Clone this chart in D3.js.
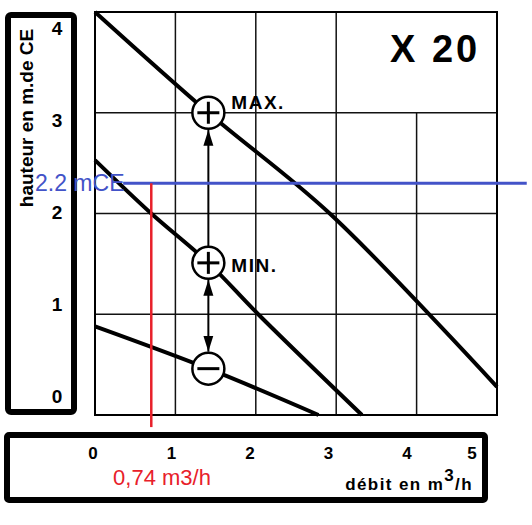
<!DOCTYPE html>
<meta charset="utf-8">
<script src="https://d3js.org/d3.v7.min.js"></script>
<style>
  body { margin: 0; background: #fff; }
  text { font-family: "Liberation Sans", Arial, sans-serif; }
</style>
<body>
<script>
  // ticks
  var flowTicks = [0, 1, 2, 3, 4, 5];
  var headTicks = [0, 1, 2, 3, 4];

  // pump curves (flow m3/h, head m)
  var maxFlow = [0, 1.41, 2.92, 5];
  var maxHead = [4.0, 3.0, 2.0, 0.28];
  var minFlow = [0, 0.70, 1.41, 2.03, 3.32];
  var minHead = [2.53, 2.0, 1.51, 1.0, 0];
  var lowFlow = [0, 1.41, 2.78];
  var lowHead = [0.88, 0.46, 0];

  // setting knobs on the curves
  var knobFlow = [1.41, 1.41, 1.41];
  var knobHead = [3.0, 1.51, 0.46];
  var knobSign = ["+", "+", "-"];
  var knobLabel = ["MAX.", "MIN.", ""];

  // hand drawn reading
  var readHead = 2.3, readFlow = 0.70;
  var readHeadText = "2.2 mCE", readFlowText = "0,74 m3/h";

  var width = 532, height = 525;

  var svg = d3.select("body").append("svg")
    .attr("width", width)
    .attr("height", height);

  var x = d3.scaleLinear().domain([0, 5]).range([95, 497]);
  var y = d3.scaleLinear().domain([0, 4]).range([415, 12]);
  // printed tick numbers sit a little off the grid
  var xLab = d3.scaleLinear().domain([0, 4]).range([93, 407]);
  var yLab = d3.scaleLinear().domain([0, 4]).range([396, 28]);

  var defs = svg.append("defs");
  defs.append("marker")
    .attr("id", "arrow")
    .attr("markerUnits", "userSpaceOnUse")
    .attr("viewBox", "0 -6 16 12")
    .attr("refX", 16).attr("refY", 0)
    .attr("markerWidth", 16).attr("markerHeight", 12)
    .attr("orient", "auto-start-reverse")
    .append("path")
    .attr("d", "M0,-5L16,0L0,5Z")
    .attr("fill", "#000");

  // grid
  var grid = svg.append("g").attr("stroke", "#111").attr("stroke-width", 1.5);
  grid.selectAll(".v").data(flowTicks.slice(1, 5)).enter().append("line")
    .attr("x1", d => x(d)).attr("x2", d => x(d))
    .attr("y1", y(0))
    .attr("y2", d => d == 4 ? y(3) : y(4));   // top right cell is left open for the label
  grid.selectAll(".h").data(headTicks.slice(1, 4)).enter().append("line")
    .attr("x1", x(0)).attr("x2", x(5))
    .attr("y1", d => y(d)).attr("y2", d => y(d));
  svg.append("rect")
    .attr("x", x(0)).attr("y", y(4))
    .attr("width", x(5) - x(0)).attr("height", y(0) - y(4))
    .attr("fill", "none").attr("stroke", "#000").attr("stroke-width", 2);

  svg.append("text")
    .attr("x", 390).attr("y", 62)
    .attr("font-size", 38).attr("font-weight", "bold")
    .attr("letter-spacing", 3)
    .text("X 20");

  // curves
  var line = d3.line().x(d => x(d[0])).y(d => y(d[1]))
    .curve(d3.curveCatmullRom.alpha(0.5));
  [[maxFlow, maxHead], [minFlow, minHead], [lowFlow, lowHead]].forEach(function(c) {
    svg.append("path")
      .attr("d", line(d3.zip(c[0], c[1])))
      .attr("fill", "none").attr("stroke", "#000")
      .attr("stroke-width", 4)
      .attr("stroke-linejoin", "round");
  });

  // arrows between knobs
  var r = 16;
  svg.append("line")
    .attr("x1", x(knobFlow[0])).attr("x2", x(knobFlow[0]))
    .attr("y1", y(knobHead[1]) - r).attr("y2", y(knobHead[0]) + r + 1)
    .attr("stroke", "#000").attr("stroke-width", 2)
    .attr("marker-end", "url(#arrow)");
  svg.append("line")
    .attr("x1", x(knobFlow[1])).attr("x2", x(knobFlow[1]))
    .attr("y1", y(knobHead[1]) + r + 1).attr("y2", y(knobHead[2]) - r - 1)
    .attr("stroke", "#000").attr("stroke-width", 2)
    .attr("marker-start", "url(#arrow)")
    .attr("marker-end", "url(#arrow)");

  // blue / red reading lines
  svg.append("line")
    .attr("x1", x(0.35)).attr("x2", x(5.37))
    .attr("y1", y(readHead)).attr("y2", y(readHead))
    .attr("stroke", "#4353c8").attr("stroke-width", 3);
  svg.append("line")
    .attr("x1", x(readFlow)).attr("x2", x(readFlow))
    .attr("y1", y(readHead)).attr("y2", y(-0.12))
    .attr("stroke", "#e8202a").attr("stroke-width", 2.5);

  // knobs
  var knobs = svg.selectAll(".knob").data(knobFlow).enter().append("g")
    .attr("transform", (d, i) => "translate(" + x(d) + "," + y(knobHead[i]) + ")");
  knobs.append("circle").attr("r", r)
    .attr("fill", "#fff").attr("stroke", "#000").attr("stroke-width", 2.5);
  knobs.append("line")
    .attr("x1", -11).attr("x2", 11)
    .attr("stroke", "#000").attr("stroke-width", 3);
  knobs.filter((d, i) => knobSign[i] == "+").append("line")
    .attr("y1", -11).attr("y2", 11)
    .attr("stroke", "#000").attr("stroke-width", 3);
  knobs.append("text")
    .attr("x", 23).attr("y", (d, i) => i == 0 ? -4 : 9)
    .attr("font-size", 19).attr("font-weight", "bold")
    .attr("letter-spacing", 1.5)
    .text((d, i) => knobLabel[i]);

  // left box with head scale
  svg.append("rect")
    .attr("x", 8).attr("y", 15).attr("width", 66).attr("height", 397)
    .attr("rx", 3)
    .attr("fill", "none").attr("stroke", "#000").attr("stroke-width", 6);
  svg.selectAll(".ylab").data(headTicks).enter().append("text")
    .attr("x", 57).attr("y", d => yLab(d))
    .attr("dy", "0.36em")
    .attr("text-anchor", "middle")
    .attr("font-size", 19).attr("font-weight", "bold")
    .text(d => d);
  svg.append("text")
    .attr("transform", "translate(33,118) rotate(-90)")
    .attr("text-anchor", "middle")
    .attr("font-size", 19).attr("font-weight", "bold")
    .text("hauteur en m.de CE");

  // bottom box with flow scale
  var boxRight = 488;
  svg.append("rect")
    .attr("x", 7).attr("y", 435).attr("width", boxRight - 10).attr("height", 65)
    .attr("rx", 2)
    .attr("fill", "none").attr("stroke", "#000").attr("stroke-width", 6);
  svg.selectAll(".xlab").data(flowTicks).enter().append("text")
    .attr("x", d => Math.min(xLab(d), boxRight - 16)).attr("y", 459)
    .attr("text-anchor", "middle")
    .attr("font-size", 17).attr("font-weight", "bold")
    .text(d => d);
  var title = svg.append("text")
    .attr("x", 473).attr("y", 490)
    .attr("text-anchor", "end")
    .attr("font-size", 17).attr("font-weight", "bold")
    .attr("letter-spacing", 1.4);
  title.append("tspan").text("débit en m");
  title.append("tspan").attr("dy", -9).text("3");
  title.append("tspan").attr("dy", 9).text("/h");

  // reading labels
  svg.append("text")
    .attr("x", 35).attr("y", 191)
    .attr("font-size", 23).attr("fill", "#4353c8")
    .text(readHeadText);
  svg.append("text")
    .attr("x", 162).attr("y", 485)
    .attr("text-anchor", "middle")
    .attr("font-size", 22).attr("fill", "#e8202a")
    .text(readFlowText);
</script>
</body>
